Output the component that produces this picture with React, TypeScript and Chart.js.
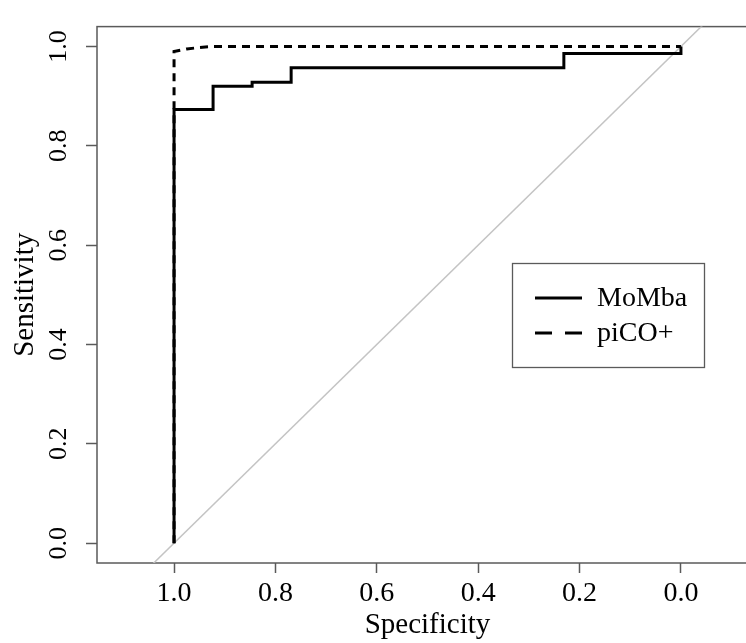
import React, { useEffect, useRef } from "react";
import { Chart, registerables } from "chart.js";

Chart.register(...registerables);

// ---- data ----
const seriesNames = ["MoMba", "piCO+"];
const momSpec = [1, 1, 0.923, 0.923, 0.846, 0.846, 0.769, 0.769, 0.231, 0.231, 0, 0];
const momSens = [0, 0.873, 0.873, 0.92, 0.92, 0.928, 0.928, 0.957, 0.957, 0.986, 0.986, 1];
const picoSpec = [1, 1, 0.975, 0.949, 0.923, 0];
const picoSens = [0, 0.99, 0.995, 0.998, 1, 1];
const chanceSpec = [1.2, -0.2];
const chanceSens = [-0.2, 1.2];
const tickValues = [0, 0.2, 0.4, 0.6, 0.8, 1.0];
const xTitle = "Specificity";
const yTitle = "Sensitivity";

const FONT = '"Liberation Serif", "Times New Roman", serif';

const toPoints = (xs: number[], ys: number[]) => xs.map((x, i) => ({ x, y: ys[i] }));

const boxPlugin = {
  id: "plotBox",
  beforeDatasetsDraw(chart: any) {
    const { ctx, chartArea } = chart;
    ctx.save();
    ctx.strokeStyle = "#5a5a5a";
    ctx.lineWidth = 1.5;
    ctx.strokeRect(chartArea.left, chartArea.top, chartArea.right - chartArea.left, chartArea.bottom - chartArea.top);
    ctx.restore();
  },
};

const legendPlugin = {
  id: "innerLegend",
  afterDraw(chart: any) {
    const { ctx } = chart;
    const left = 512, top = 263, w = 192, h = 104;
    ctx.save();
    ctx.strokeStyle = "#5a5a5a";
    ctx.lineWidth = 1.3;
    ctx.strokeRect(left + 0.5, top + 0.5, w, h);
    const ds = chart.data.datasets;
    const rows = [298, 333];
    ctx.font = `28px ${FONT}`;
    ctx.textBaseline = "middle";
    ctx.fillStyle = "#000";
    for (let i = 0; i < 2; i++) {
      const y = rows[i];
      ctx.beginPath();
      ctx.lineWidth = 3;
      ctx.strokeStyle = "#000";
      ctx.setLineDash(i === 1 ? [17, 13] : []);
      ctx.moveTo(535, y);
      ctx.lineTo(582, y);
      ctx.stroke();
      ctx.setLineDash([]);
      ctx.fillText(ds[i].label, 597, y + 1);
    }
    ctx.restore();
  },
};

export default function App() {
  const ref = useRef<HTMLCanvasElement | null>(null);
  useEffect(() => {
    if (!ref.current) return;
    const setTicks = (scale: any) => {
      scale.ticks = tickValues.map((v) => ({ value: v }));
    };
    const chart = new Chart(ref.current, {
      type: "scatter",
      data: {
        datasets: [
          {
            label: seriesNames[0],
            data: toPoints(momSpec, momSens),
            showLine: true,
            borderColor: "#000",
            borderWidth: 3,
            pointRadius: 0,
            tension: 0,
            order: 1,
          },
          {
            label: seriesNames[1],
            data: toPoints(picoSpec, picoSens),
            showLine: true,
            borderColor: "#000",
            borderWidth: 3,
            borderDash: [8, 6],
            pointRadius: 0,
            tension: 0,
            order: 0,
          },
          {
            label: "",
            data: toPoints(chanceSpec, chanceSens),
            showLine: true,
            borderColor: "#c4c4c4",
            borderWidth: 1.5,
            pointRadius: 0,
            tension: 0,
            order: 3,
          },
        ],
      },
      options: {
        responsive: false,
        animation: false,
        devicePixelRatio: 1,
        layout: { padding: { top: 15, right: 12, left: 0, bottom: 0 } },
        plugins: { legend: { display: false }, tooltip: { enabled: false } },
        scales: {
          x: {
            type: "linear",
            reverse: true,
            min: -0.152,
            max: 1.152,
            afterBuildTicks: setTicks,
            afterFit: (s: any) => { s.height = 80; },
            border: { display: false },
            grid: { drawOnChartArea: false, drawTicks: true, tickLength: 10, tickColor: "#5a5a5a", tickWidth: 1.5 },
            ticks: {
              maxRotation: 0,
              minRotation: 0,
              padding: 4,
              color: "#000",
              font: { family: FONT, size: 28 },
              callback: (v: any) => Number(v).toFixed(1),
            },
            title: {
              display: true,
              text: xTitle,
              color: "#000",
              font: { family: FONT, size: 29 },
              padding: { top: 0, bottom: 0 },
            },
          },
          y: {
            type: "linear",
            min: -0.04,
            max: 1.04,
            afterBuildTicks: setTicks,
            afterFit: (s: any) => { s.width = 97; },
            border: { display: false },
            grid: { drawOnChartArea: false, drawTicks: true, tickLength: 11, tickColor: "#5a5a5a", tickWidth: 1.5 },
            ticks: {
              minRotation: 90,
              maxRotation: 90,
              crossAlign: "center",
              align: "center",
              padding: 11,
              color: "#000",
              font: { family: FONT, size: 26 },
              callback: (v: any) => Number(v).toFixed(1),
            },
            title: {
              display: true,
              text: yTitle,
              color: "#000",
              font: { family: FONT, size: 29 },
              padding: { top: 7.6, bottom: 0 },
            },
          },
        },
      },
      plugins: [boxPlugin, legendPlugin],
    } as any);
    return () => chart.destroy();
  }, []);

  return (
    <div
      style={{
        position: "fixed",
        left: 0,
        top: 0,
        width: 746,
        height: 643,
        overflow: "hidden",
        background: "#fff",
      }}
    >
      <canvas ref={ref} width={770} height={643} style={{ display: "block" }} />
    </div>
  );
}
